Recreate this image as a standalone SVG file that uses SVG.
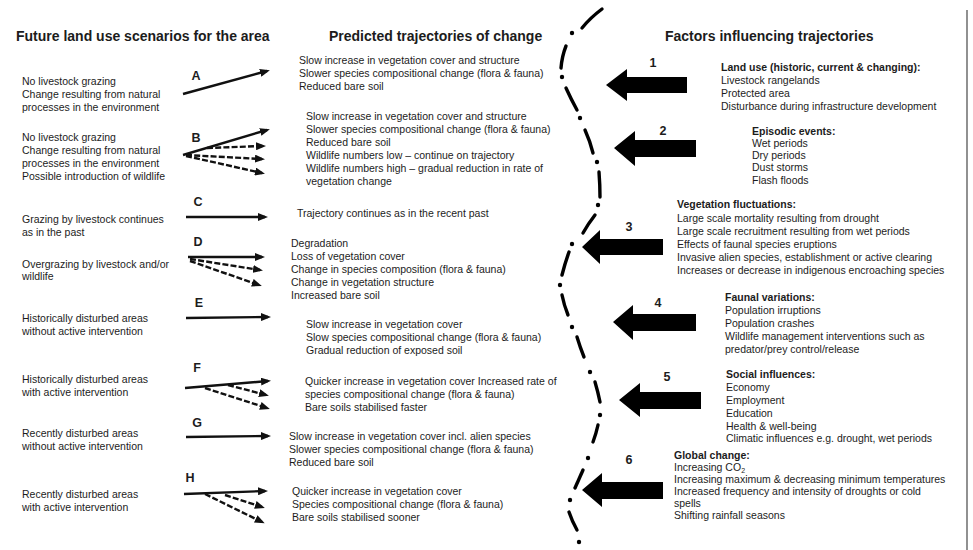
<svg xmlns="http://www.w3.org/2000/svg" width="973" height="550" viewBox="0 0 973 550">
<style>
text{font-family:"Liberation Sans",Arial,sans-serif;fill:#1c1c1c}
.h{font-size:14px;font-weight:bold}
.t{font-size:10.5px}
.b{font-size:10.5px;font-weight:bold}
.l{font-size:12.5px;font-weight:bold;text-anchor:middle}
.s{stroke:#111;stroke-width:2.4;fill:none;marker-end:url(#ah)}
.d{stroke:#111;stroke-width:2.4;fill:none;stroke-dasharray:6 2.2;marker-end:url(#ah)}
.big{fill:#000}
.dv{stroke:#000;stroke-width:3.4;stroke-linecap:round;fill:none}
</style>
<defs>
<marker id="ah" markerUnits="userSpaceOnUse" markerWidth="10" markerHeight="8" refX="7" refY="4" orient="auto">
<path d="M0,0 L10,4 L0,8 z" fill="#111"/>
</marker>
</defs>
<rect width="973" height="550" fill="#fff"/>
<line x1="967" y1="10" x2="967" y2="550" stroke="#555" stroke-width="1.3"/>

<g id="headers">
<text class="h" x="16" y="41">Future land use scenarios for the area</text>
<text class="h" x="329" y="41">Predicted trajectories of change</text>
<text class="h" x="665" y="41">Factors influencing trajectories</text>
</g>

<g id="scenario-A"><text class="l" x="196" y="80">A</text>
<text class="t" x="22" y="85">No livestock grazing</text><text class="t" x="22" y="98">Change resulting from natural</text><text class="t" x="22" y="111">processes in the environment</text></g>
<g id="scenario-B"><text class="l" x="196" y="142">B</text>
<text class="t" x="22" y="141">No livestock grazing</text><text class="t" x="22" y="154">Change resulting from natural</text><text class="t" x="22" y="167">processes in the environment</text><text class="t" x="22" y="180">Possible introduction of wildlife</text></g>
<g id="scenario-C"><text class="l" x="198" y="206">C</text>
<text class="t" x="22" y="223">Grazing by livestock continues</text><text class="t" x="22" y="236">as in the past</text></g>
<g id="scenario-D"><text class="l" x="198" y="246">D</text>
<text class="t" x="22" y="268">Overgrazing by livestock and/or</text><text class="t" x="22" y="280">wildlife</text></g>
<g id="scenario-E"><text class="l" x="199" y="307">E</text>
<text class="t" x="22" y="322">Historically disturbed areas</text><text class="t" x="22" y="335">without active intervention</text></g>
<g id="scenario-F"><text class="l" x="197" y="372">F</text>
<text class="t" x="22" y="383">Historically disturbed areas</text><text class="t" x="22" y="396">with active intervention</text></g>
<g id="scenario-G"><text class="l" x="197" y="427">G</text>
<text class="t" x="22" y="437">Recently disturbed areas</text><text class="t" x="22" y="450">without active intervention</text></g>
<g id="scenario-H"><text class="l" x="190" y="482">H</text>
<text class="t" x="22" y="498">Recently disturbed areas</text><text class="t" x="22" y="511">with active intervention</text></g>

<g id="trajectory-A">
<text class="t" x="299" y="64">Slow increase in vegetation cover and structure</text>
<text class="t" x="299" y="77">Slower species compositional change (flora &amp; fauna)</text>
<text class="t" x="299" y="90">Reduced bare soil</text></g>
<g id="trajectory-B">
<text class="t" x="306" y="120">Slow increase in vegetation cover and structure</text>
<text class="t" x="306" y="133">Slower species compositional change (flora &amp; fauna)</text>
<text class="t" x="306" y="146">Reduced bare soil</text>
<text class="t" x="306" y="159">Wildlife numbers low – continue on trajectory</text>
<text class="t" x="306" y="172">Wildlife numbers high – gradual reduction in rate of</text>
<text class="t" x="306" y="185">vegetation change</text></g>
<g id="trajectory-C"><text class="t" x="297" y="217">Trajectory continues as in the recent past</text></g>
<g id="trajectory-D">
<text class="t" x="291" y="247">Degradation</text>
<text class="t" x="291" y="260">Loss of vegetation cover</text>
<text class="t" x="291" y="273">Change in species composition (flora &amp; fauna)</text>
<text class="t" x="291" y="286">Change in vegetation structure</text>
<text class="t" x="291" y="299">Increased bare soil</text></g>
<g id="trajectory-E">
<text class="t" x="306" y="328">Slow increase in vegetation cover</text>
<text class="t" x="306" y="341">Slow species compositional change (flora &amp; fauna)</text>
<text class="t" x="306" y="354">Gradual reduction of exposed soil</text></g>
<g id="trajectory-F">
<text class="t" x="305" y="385">Quicker increase in vegetation cover Increased rate of</text>
<text class="t" x="305" y="398">species compositional change (flora &amp; fauna)</text>
<text class="t" x="305" y="411">Bare soils stabilised faster</text></g>
<g id="trajectory-G">
<text class="t" x="289" y="440">Slow increase in vegetation cover incl. alien species</text>
<text class="t" x="289" y="453">Slower species compositional change (flora &amp; fauna)</text>
<text class="t" x="289" y="466">Reduced bare soil</text></g>
<g id="trajectory-H">
<text class="t" x="292" y="495">Quicker increase in vegetation cover</text>
<text class="t" x="292" y="508">Species compositional change (flora &amp; fauna)</text>
<text class="t" x="292" y="521">Bare soils stabilised sooner</text></g>

<g id="factor-1"><text class="l" x="653" y="67">1</text>
<text class="b" x="721" y="71">Land use (historic, current &amp; changing):</text>
<text class="t" x="721" y="84">Livestock rangelands</text>
<text class="t" x="721" y="97">Protected area</text>
<text class="t" x="721" y="110">Disturbance during infrastructure development</text></g>
<g id="factor-2"><text class="l" x="663" y="135">2</text>
<text class="b" x="752" y="135">Episodic events:</text>
<text class="t" x="752" y="147">Wet periods</text>
<text class="t" x="752" y="159">Dry periods</text>
<text class="t" x="752" y="171">Dust storms</text>
<text class="t" x="752" y="184">Flash floods</text></g>
<g id="factor-3"><text class="l" x="629" y="231">3</text>
<text class="b" x="677" y="208">Vegetation fluctuations:</text>
<text class="t" x="677" y="222">Large scale mortality resulting from drought</text>
<text class="t" x="677" y="235">Large scale recruitment resulting from wet periods</text>
<text class="t" x="677" y="248">Effects of faunal species eruptions</text>
<text class="t" x="677" y="261">Invasive alien species, establishment or active clearing</text>
<text class="t" x="677" y="274">Increases or decrease in indigenous encroaching species</text></g>
<g id="factor-4"><text class="l" x="658" y="307">4</text>
<text class="b" x="725" y="301">Faunal variations:</text>
<text class="t" x="725" y="314">Population irruptions</text>
<text class="t" x="725" y="327">Population crashes</text>
<text class="t" x="725" y="340">Wildlife management interventions such as</text>
<text class="t" x="725" y="353">predator/prey control/release</text></g>
<g id="factor-5"><text class="l" x="667" y="381">5</text>
<text class="b" x="726" y="378">Social influences:</text>
<text class="t" x="726" y="391">Economy</text>
<text class="t" x="726" y="404">Employment</text>
<text class="t" x="726" y="417">Education</text>
<text class="t" x="726" y="430">Health &amp; well-being</text>
<text class="t" x="726" y="442">Climatic influences e.g. drought, wet periods</text></g>
<g id="factor-6"><text class="l" x="629" y="464">6</text>
<text class="b" x="674" y="459">Global change:</text>
<text class="t" x="674" y="471">Increasing CO<tspan font-size="7" dy="2">2</tspan></text>
<text class="t" x="674" y="483">Increasing maximum &amp; decreasing minimum temperatures</text>
<text class="t" x="674" y="495">Increased frequency and intensity of droughts or cold</text>
<text class="t" x="674" y="507">spells</text>
<text class="t" x="674" y="519">Shifting rainfall seasons</text></g>

<g id="connectors">
<path class="s" d="M183,94 L267,71"/>
<path class="s" d="M183,155 L267,130"/>
<path class="d" d="M207,148 L263,146"/>
<path class="d" d="M186,155 L262,159"/>
<path class="d" d="M186,156 L262,173"/>
<path class="s" d="M186,217 L265,217"/>
<path class="s" d="M188,257 L262,257"/>
<path class="d" d="M190,259 L260,270"/>
<path class="d" d="M190,261 L259,285"/>
<path class="s" d="M186,318 L268,317"/>
<path class="s" d="M185,388 L268,381"/>
<path class="d" d="M228,385 L266,395"/>
<path class="d" d="M205,388 L267,408"/>
<path class="s" d="M186,437 L268,436"/>
<path class="s" d="M184,494 L265,491"/>
<path class="d" d="M225,495 L262,507"/>
<path class="d" d="M205,494 L262,522"/>
<polygon class="big" points="606,85 627,69 627,77 687,77 687,93 627,93 627,101"/>
<polygon class="big" points="614,148 635,131 635,140 696,140 696,157 635,157 635,166"/>
<polygon class="big" points="582,247 600,230 600,239 663,239 663,255 600,255 600,264"/>
<polygon class="big" points="613,322 633,305 633,314 696,314 696,331 633,331 633,340"/>
<polygon class="big" points="619,400 640,383 640,392 701,392 701,409 640,409 640,417"/>
<polygon class="big" points="582,490 602,473 602,482 663,482 663,499 602,499 602,507"/>
</g>

<g id="divider">
<path class="dv" d="M602,9 Q590,18 582,28"/>
<path class="dv" d="M566,46 Q562,56 561,68"/>
<path class="dv" d="M566,88 Q571,99 577,110"/>
<path class="dv" d="M585,130 Q590,141 593,153"/>
<path class="dv" d="M599,172 Q600,185 600,197"/>
<path class="dv" d="M595,215 Q588,224 583,233"/>
<path class="dv" d="M569,252 Q565,263 562,275"/>
<path class="dv" d="M562,295 Q564,305 568,315"/>
<path class="dv" d="M577,337 Q580,347 584,357"/>
<path class="dv" d="M595,382 Q598,392 600,402"/>
<path class="dv" d="M598,425 Q596,434 593,442"/>
<path class="dv" d="M583,470 Q579,479 575,488"/>
<path class="dv" d="M569,512 Q572,521 577,530"/>
<circle cx="572" cy="33" r="2.2"/>
<circle cx="562" cy="77" r="2.2"/>
<circle cx="580" cy="118" r="2.2"/>
<circle cx="597" cy="162" r="2.2"/>
<circle cx="598" cy="205" r="2.2"/>
<circle cx="572" cy="244" r="2.2"/>
<circle cx="560" cy="285" r="2.2"/>
<circle cx="572" cy="327" r="2.2"/>
<circle cx="590" cy="372" r="2.2"/>
<circle cx="600" cy="415" r="2.2"/>
<circle cx="588" cy="458" r="2.2"/>
<circle cx="570" cy="500" r="2.2"/>
<circle cx="579" cy="542" r="2.2"/>
</g>
</svg>
